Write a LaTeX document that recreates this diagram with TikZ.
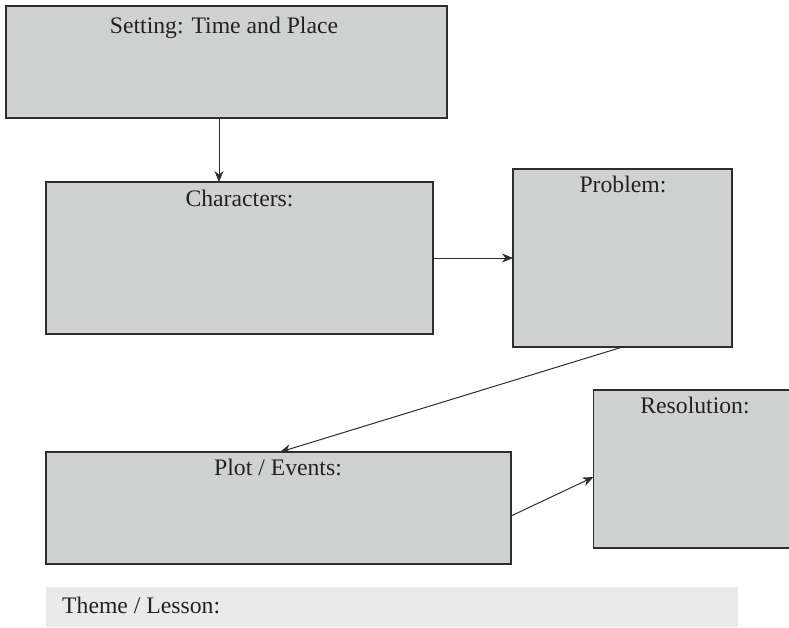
\documentclass[tikz,border=0pt]{standalone}
\usepackage{fontspec}
\setmainfont{Liberation Serif}
\usetikzlibrary{arrows.meta,calc}
\definecolor{boxfill}{HTML}{D0D2D1}
\definecolor{themefill}{HTML}{E9EAE9}
\definecolor{edge}{HTML}{2E2E2E}
\definecolor{txt}{HTML}{222222}
\begin{document}
\begin{tikzpicture}[x=1pt,y=-1pt,
  panel/.style={draw=edge,line width=1.1pt,fill=boxfill,inner sep=0pt,outer sep=0pt},
  caption/.style={anchor=base,text=txt,inner sep=0pt,font=\fontsize{23.7}{28}\selectfont},
  link/.style={draw=edge,line width=1pt,-{Stealth[length=11pt,width=9pt]}}]
\useasboundingbox (0,0) rectangle (789,627);
% boxes
\node[panel,minimum width=441pt,minimum height=112pt] (setting) at (226.5,62) {};
\node[panel,minimum width=387pt,minimum height=152pt] (chars) at (239.5,258) {};
\node[panel,minimum width=219pt,minimum height=178pt] (prob) at (622.5,258) {};
\node[panel,minimum width=465pt,minimum height=112pt] (plot) at (278.5,508) {};
\node[panel,minimum width=196pt,minimum height=158pt] (res) at (691.5,469) {};
\node[fill=themefill,inner sep=0pt,minimum width=692pt,minimum height=40pt] (theme) at (392,607) {};
% labels
\node[caption] (settingtxt) at (224,33) {Setting: Time and Place};
\node[caption] (charstxt) at (239.5,206) {Characters:};
\node[caption] (probtxt) at (623,192.5) {Problem:};
\node[caption] (plottxt) at (278,475) {Plot / Events:};
\node[caption] (restxt) at (695,413) {Resolution:};
\node[caption,anchor=base west] (themetxt) at (62,613) {Theme / Lesson:};
% connectors
\draw[link] ([xshift=-7.5pt]setting.south) -- ([xshift=-7.5pt]setting.south |- chars.north);
\draw[link] (chars.east) -- (chars.east -| prob.west);
\draw[link] (prob.south) -- ([xshift=1.5pt]plot.north);
\draw[link] ([yshift=-8pt]plot.east) -- ([yshift=-8pt]res.west);
\end{tikzpicture}
\end{document}
